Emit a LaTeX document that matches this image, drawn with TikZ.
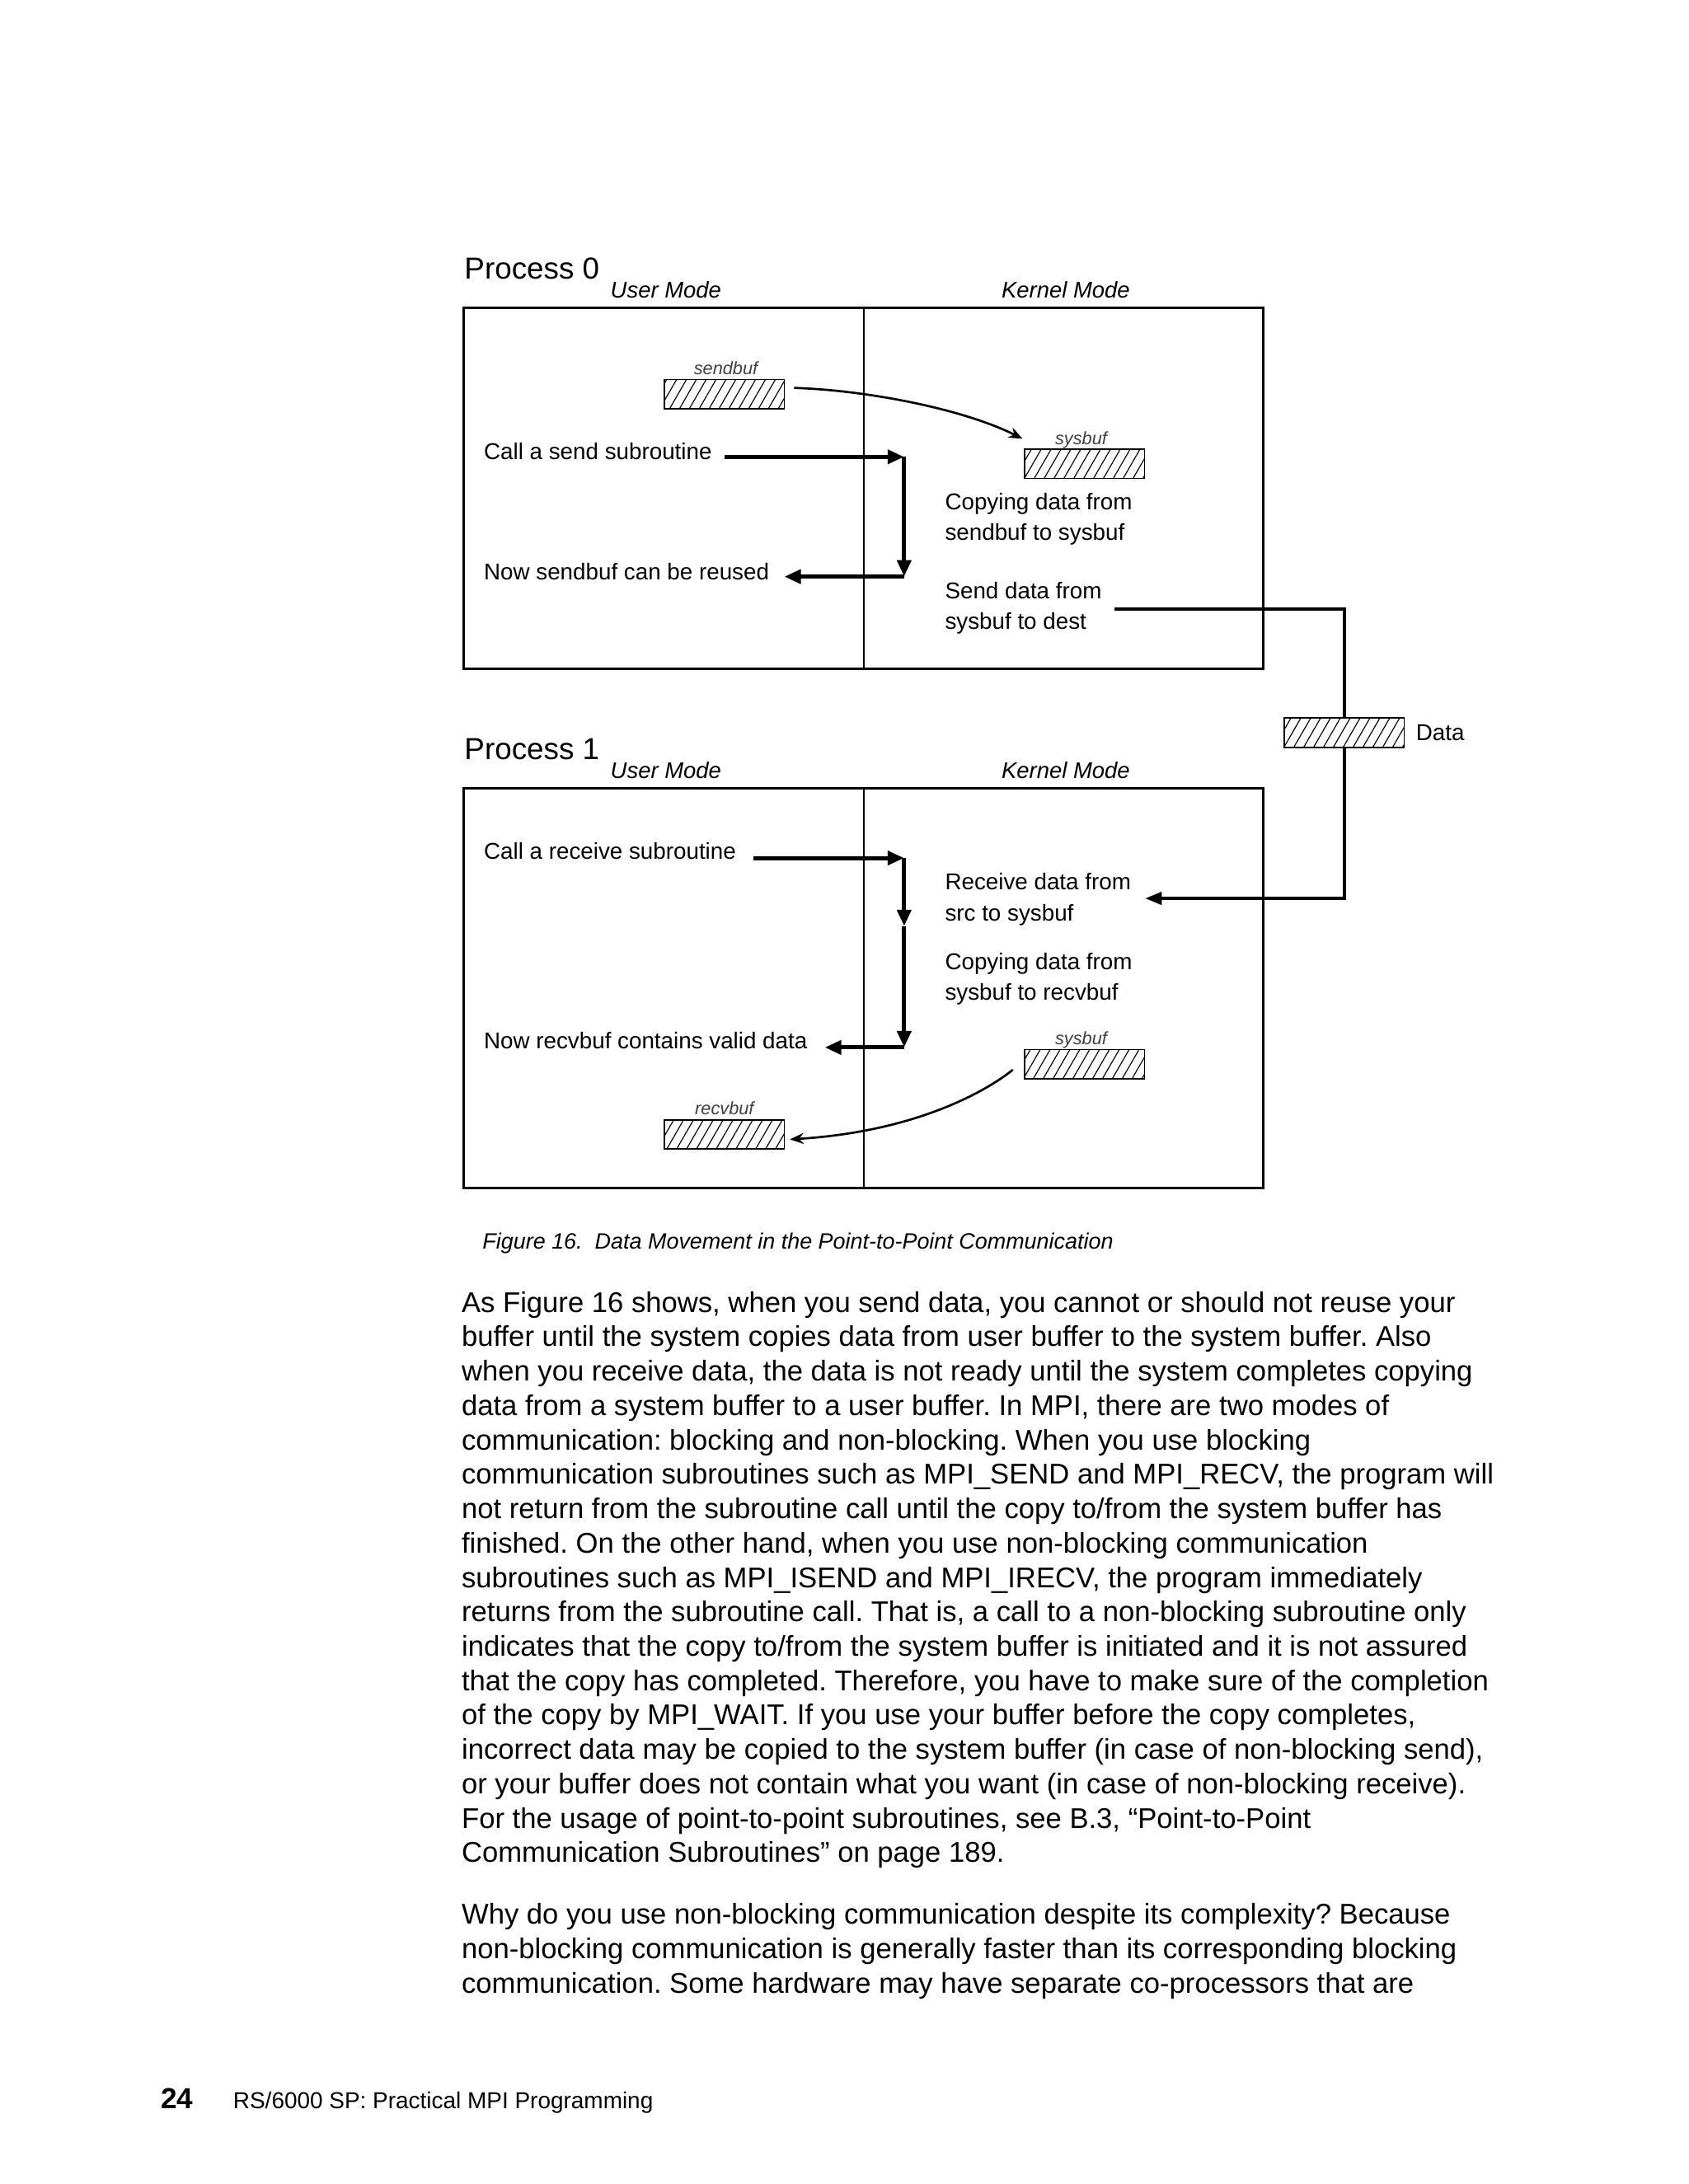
\documentclass[tikz,border=0pt]{standalone}
\usepackage{fontspec}
\setmainfont{Liberation Sans}
\usepackage{graphicx}
\usetikzlibrary{arrows.meta,patterns.meta}
\frenchspacing

\tikzset{
  lbl/.style={anchor=base west, inner sep=0pt, font=\fontsize{8.3}{10}\selectfont},
  proc/.style={anchor=base west, inner sep=0pt, font=\fontsize{11}{13}\selectfont},
  modelbl/.style={anchor=base, inner sep=0pt, font=\fontsize{8.2}{10}\selectfont\itshape},
  buflbl/.style={anchor=base, inner sep=0pt, font=\fontsize{6.5}{8}\selectfont\itshape, text=black!75},
  buf/.style={draw, line width=0.5pt, inner sep=0pt, minimum width=43.4pt, minimum height=10.6pt,
    pattern={Lines[angle=60,distance=3.1pt,line width=0.35pt]}},
  frame/.style={line width=0.9pt},
  divider/.style={line width=0.7pt},
  bigarrow/.style={line width=1.5pt, -{Triangle[length=6pt,width=5pt]}},
  curvearrow/.style={line width=0.8pt, -{Stealth[length=5pt,width=4pt]}},
  dataline/.style={line width=1.2pt},
  body/.style={anchor=base west, inner sep=0pt, font=\fontsize{10.35}{12.5}\selectfont},
  caption/.style={anchor=base west, inner sep=0pt, font=\fontsize{8.05}{10}\selectfont\itshape},
  footer/.style={anchor=base west, inner sep=0pt, font=\fontsize{8.35}{10}\selectfont},
  pagenum/.style={anchor=base west, inner sep=0pt, font=\fontsize{10.5}{12}\selectfont\bfseries}
}

\begin{document}
\begin{tikzpicture}[x=0.50495pt, y=-0.50495pt]
\fill[white] (0,0) rectangle (1212,1568);
\useasboundingbox (0,0) rectangle (1212,1568);

% ---------------- Process 0 ----------------
\node[proc] (p0) at (333,200) {Process 0};
\node[modelbl] (um0) at (478,214) {User Mode};
\node[modelbl] (km0) at (765,214) {Kernel Mode};
\draw[frame] (333,221) rectangle (907,480);
\draw[divider] (620,221) -- (620,480);

\node[buf] (sendbuf) at (520,283) {};
\node[buflbl] (sendbufl) at (521,269) {sendbuf};
\node[buf] (sysbuf0) at (778.5,333) {};
\node[buflbl] (sysbuf0l) at (776,319) {sysbuf};

\node[lbl] (callsend) at (347,330) {Call a send subroutine};
\node[lbl] (reused) at (347,416) {Now sendbuf can be reused};
\node[lbl] (copy0a) at (678,366) {Copying data from};
\node[lbl] (copy0b) at (678,388) {sendbuf to sysbuf};
\node[lbl] (senda) at (678,430) {Send data from};
\node[lbl] (sendb) at (678,452) {sysbuf to dest};

\coordinate (s0) at (520,328);
\coordinate (s1) at (649,328);
\coordinate (s2) at (649,414);
\coordinate (s3) at (563,414);
\draw[bigarrow] (s0) -- (s1);
\draw[bigarrow] (s1) -- (s2);
\draw[bigarrow] (s2) -- (s3);

\draw[curvearrow] (570,278.5) .. controls (620,280) and (690,293) .. (734,315);

% ---------------- Data ----------------
\node[buf] (data) at (965,526) {};
\node[lbl, anchor=west] (datal) at (1016,526) {Data};
\coordinate (d0) at (800,437);
\coordinate (d1) at (822,645);
\draw[dataline] (d0) -| (data.north);
\draw[dataline, -{Triangle[length=6pt,width=4.5pt]}] (data.south) |- (d1);

% ---------------- Process 1 ----------------
\node[proc] (p1) at (333,545) {Process 1};
\node[modelbl] (um1) at (478,559) {User Mode};
\node[modelbl] (km1) at (765,559) {Kernel Mode};
\draw[frame] (333,566) rectangle (907,853);
\draw[divider] (620,566) -- (620,853);

\node[lbl] (callrecv) at (347,617) {Call a receive subroutine};
\node[lbl] (recva) at (678,639) {Receive data from};
\node[lbl] (recvb) at (678,661) {src to sysbuf};
\node[lbl] (copy1a) at (678,696) {Copying data from};
\node[lbl] (copy1b) at (678,718) {sysbuf to recvbuf};
\node[lbl] (valid) at (347,753) {Now recvbuf contains valid data};

\node[buf] (sysbuf1) at (778.5,764) {};
\node[buflbl] (sysbuf1l) at (776,750) {sysbuf};
\node[buf] (recvbuf) at (520,814.5) {};
\node[buflbl] (recvbufl) at (520,800) {recvbuf};

\coordinate (r0) at (541,616);
\coordinate (r1) at (649,616);
\coordinate (r2) at (649,665);
\coordinate (r3) at (649,752);
\coordinate (r4) at (592,752);
\draw[bigarrow] (r0) -- (r1);
\draw[bigarrow] (r1) -- (r2);
\draw[bigarrow] (r2) -- (r3);
\draw[bigarrow] (r3) -- (r4);

\draw[curvearrow] (727,768) .. controls (715,778) and (665,812) .. (567,818);

% ---------------- Caption and text ----------------
\node[caption] (cap) at (346,897) {Figure 16.\ \ Data Movement in the Point-to-Point Communication};

\node[body] (b1) at (331,942.0) {As Figure 16 shows, when you send data, you cannot or should not reuse your};
\node[body] (b2) at (331,966.7) {buffer until the system copies data from user buffer to the system buffer. Also};
\node[body] (b3) at (331,991.4) {when you receive data, the data is not ready until the system completes copying};
\node[body] (b4) at (331,1016.1) {data from a system buffer to a user buffer. In MPI, there are two modes of};
\node[body] (b5) at (331,1040.8) {communication: blocking and non-blocking. When you use blocking};
\node[body] (b6) at (331,1065.5) {communication subroutines such as MPI\_SEND and MPI\_RECV, the program will};
\node[body] (b7) at (331,1090.2) {not return from the subroutine call until the copy to/from the system buffer has};
\node[body] (b8) at (331,1114.9) {finished. On the other hand, when you use non-blocking communication};
\node[body] (b9) at (331,1139.6) {subroutines such as MPI\_ISEND and MPI\_IRECV, the program immediately};
\node[body] (b10) at (331,1164.3) {returns from the subroutine call. That is, a call to a non-blocking subroutine only};
\node[body] (b11) at (331,1189.0) {indicates that the copy to/from the system buffer is initiated and it is not assured};
\node[body] (b12) at (331,1213.7) {that the copy has completed. Therefore, you have to make sure of the completion};
\node[body] (b13) at (331,1238.4) {of the copy by MPI\_WAIT. If you use your buffer before the copy completes,};
\node[body] (b14) at (331,1263.1) {incorrect data may be copied to the system buffer (in case of non-blocking send),};
\node[body] (b15) at (331,1287.8) {or your buffer does not contain what you want (in case of non-blocking receive).};
\node[body] (b16) at (331,1312.5) {For the usage of point-to-point subroutines, see B.3, “Point-to-Point};
\node[body] (b17) at (331,1337.2) {Communication Subroutines” on page 189.};

\node[body] (c1) at (331,1381.5) {Why do you use non-blocking communication despite its complexity? Because};
\node[body] (c2) at (331,1406.2) {non-blocking communication is generally faster than its corresponding blocking};
\node[body] (c3) at (331,1430.9) {communication. Some hardware may have separate co-processors that are};

\node[pagenum] (pn) at (115,1514) {24};
\node[footer] (ft) at (167,1514) {RS/6000 SP: Practical MPI Programming};
\end{tikzpicture}
\end{document}
